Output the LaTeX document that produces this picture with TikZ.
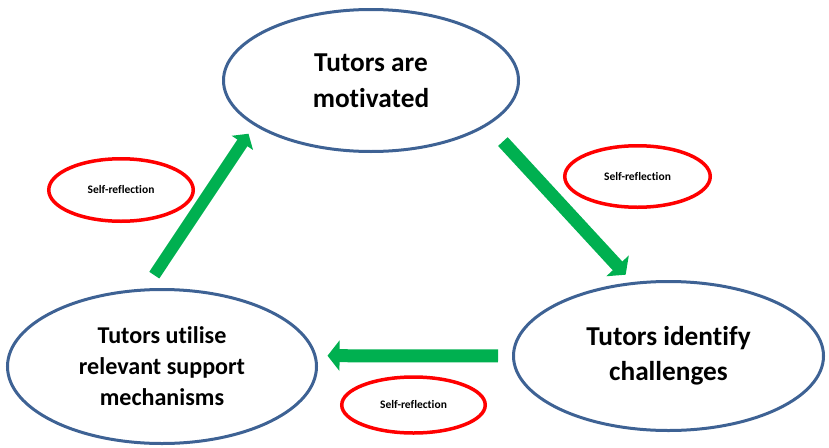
\documentclass[tikz,border=0pt]{standalone}
\usepackage{fontspec}
\setmainfont{Carlito}[Ligatures={NoCommon}]
\usetikzlibrary{shapes.geometric, arrows.meta}

\definecolor{stageblue}{RGB}{62,98,148}
\definecolor{flowgreen}{RGB}{0,176,80}

\begin{document}
\begin{tikzpicture}[x=1pt, y=-1pt,
        stage/.style={ellipse, draw=stageblue, line width=3pt, inner sep=0pt, align=center},
        note/.style={ellipse, draw=red, line width=3.5pt, inner sep=0pt,
            font=\bfseries\fontsize{11.5}{14}\selectfont},
        flow/.style={color=flowgreen, line width=13pt, -{Triangle[width=30pt, length=12pt]}}]
        \useasboundingbox (0,0) rectangle (829,447);

        % Nodes
        \node (mot) [stage, minimum width=295pt, minimum height=142pt,
            font=\bfseries\fontsize{27.3}{36}\selectfont] at (371,80.5) {Tutors are\\motivated};
        \node (chal) [stage, minimum width=310pt, minimum height=149pt,
            font=\bfseries\fontsize{27.3}{35}\selectfont] at (668.5,356) {Tutors identify\\challenges};
        \node (supp) [stage, minimum width=309pt, minimum height=154pt,
            font=\bfseries\fontsize{24.1}{31}\selectfont] at (162,366.5) {Tutors utilise\\relevant support\\mechanisms};

        \node (refl1) [note, minimum width=144.5pt, minimum height=62.5pt] at (121,190) {Self-reflection};
        \node (refl2) [note, minimum width=145.5pt, minimum height=61.5pt] at (637.5,176.5) {Self-reflection};
        \node (refl3) [note, minimum width=143.5pt, minimum height=56pt] at (413.5,405) {Self-reflection};

        % Arrows
        \draw[flow, line width=12pt, -{Triangle[width=25pt, length=11pt]},
            shorten <=16pt, shorten >=10pt] (supp.102) -- (mot.201);
        \draw[flow, shorten <=22pt, shorten >=10pt] (mot.339) -- (chal.116);
        \draw[flow, shorten <=14pt, shorten >=11pt] (chal.180) -- (supp.4);

    \end{tikzpicture}
\end{document}
